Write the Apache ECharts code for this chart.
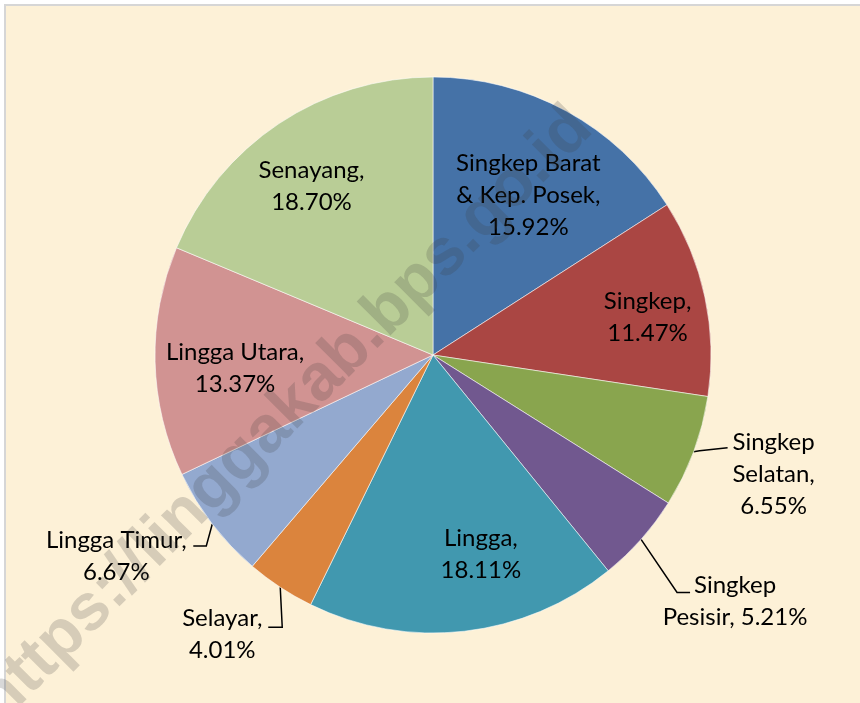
<!DOCTYPE html>
<html><head><meta charset="utf-8">
<script src="https://cdn.jsdelivr.net/npm/echarts@6/dist/echarts.min.js"></script>
<style>html,body{margin:0;padding:0;background:#fff}#c{width:860px;height:703px}</style>
</head><body><div id="c"></div>
<script>
// ---- data ----
const categories = ['Singkep Barat\n& Kep. Posek', 'Singkep', 'Singkep\nSelatan', 'Singkep\nPesisir', 'Lingga', 'Selayar', 'Lingga Timur', 'Lingga Utara', 'Senayang'];
const values = [15.92, 11.47, 6.55, 5.21, 18.11, 4.01, 6.67, 13.37, 18.70];
const colors = ['#4572A7', '#AA4643', '#89A54E', '#71588F', '#4198AF', '#DB843D', '#93A9CF', '#D19392', '#B9CD96'];
const outsideLabels = ['Singkep\nSelatan', 'Singkep\nPesisir', 'Lingga Timur', 'Selayar'];
const sameLineLabels = ['Singkep\nPesisir'];

// ---- label styling offsets (layout only) ----
const insideNudge = {
  'Singkep Barat\n& Kep. Posek': [-2, 18], 'Singkep': [16, 5], 'Senayang': [-9, 0],
  'Lingga Utara': [5, 8], 'Lingga': [25, -2]
};
const outsideLayout = {
  'Singkep\nSelatan': { text: [80, 22], line: [[6, -1], [34, -4]] },
  'Singkep\nPesisir': { text: [94, 62], line: [[36, 53], [49, 53]] },
  'Lingga Timur': { text: [-96, 32], line: [[-6, 22], [-19, 22]] },
  'Selayar': { text: [-58, 47], line: [[2, 40], [-12, 40]] }
};

const FONT = 'Lato';
const fmt = p => p.name + ',' + (sameLineLabels.includes(p.name) ? ' ' : '\n') + p.value.toFixed(2) + '%';
const labelStyle = { fontFamily: FONT, fontSize: 24, lineHeight: 32, color: '#000', formatter: fmt };

const mainData = categories.map((n, i) => {
  const outer = outsideLabels.includes(n);
  return {
    name: n, value: values[i], itemStyle: { color: colors[i] },
    label: { show: outer }, labelLine: { show: outer }
  };
});
const overlayData = categories.map((n, i) => ({
  name: n, value: values[i],
  label: { show: !outsideLabels.includes(n) }
}));

const chart = echarts.init(document.getElementById('c'));
chart.setOption({
  animation: false,
  backgroundColor: '#fff',
  graphic: [
    { type: 'rect', silent: true, z: -10, shape: { x: 5, y: 5, width: 900, height: 800 },
      style: { fill: '#FDF1D7', stroke: '#d6d6d6', lineWidth: 2 } },
    { type: 'text', silent: true, z: 100, x: 285, y: 415, rotation: Math.PI / 4,
      style: { text: 'https://linggakab.bps.go.id', font: 'bold 66px "Liberation Sans"', fill: 'rgba(60,60,60,0.2)',
        align: 'center', verticalAlign: 'middle' } }
  ],
  series: [
    {
      type: 'pie', center: [433, 355], radius: [0, 278], startAngle: 90, clockwise: true,
      avoidLabelOverlap: false, silent: true,
      itemStyle: { borderColor: 'rgba(255,255,255,0.55)', borderWidth: 1 },
      label: Object.assign({ position: 'outside', align: 'center' }, labelStyle),
      labelLine: { length: 10, length2: 10, lineStyle: { color: '#000', width: 1.5 } },
      labelLayout: function (p) {
        const cfg = outsideLayout[categories[p.dataIndex]];
        if (!cfg || !p.labelLinePoints) return {};
        const p0 = p.labelLinePoints[0];
        return {
          x: p0[0] + cfg.text[0], y: p0[1] + cfg.text[1], align: 'center', verticalAlign: 'middle',
          labelLinePoints: [p0, [p0[0] + cfg.line[0][0], p0[1] + cfg.line[0][1]], [p0[0] + cfg.line[1][0], p0[1] + cfg.line[1][1]]]
        };
      },
      data: mainData
    },
    {
      type: 'pie', center: [433, 355], radius: [122, 278], startAngle: 90, clockwise: true,
      silent: true, avoidLabelOverlap: false,
      itemStyle: { color: 'rgba(0,0,0,0)', borderWidth: 0 },
      label: Object.assign({ position: 'inside' }, labelStyle),
      labelLine: { show: false },
      labelLayout: function (p) {
        const nd = insideNudge[categories[p.dataIndex]];
        if (!nd) return {};
        const r = p.labelRect;
        return { x: r.x + r.width / 2 + nd[0], y: r.y + r.height / 2 + nd[1], align: 'center', verticalAlign: 'middle' };
      },
      data: overlayData
    }
  ]
});
</script></body></html>
